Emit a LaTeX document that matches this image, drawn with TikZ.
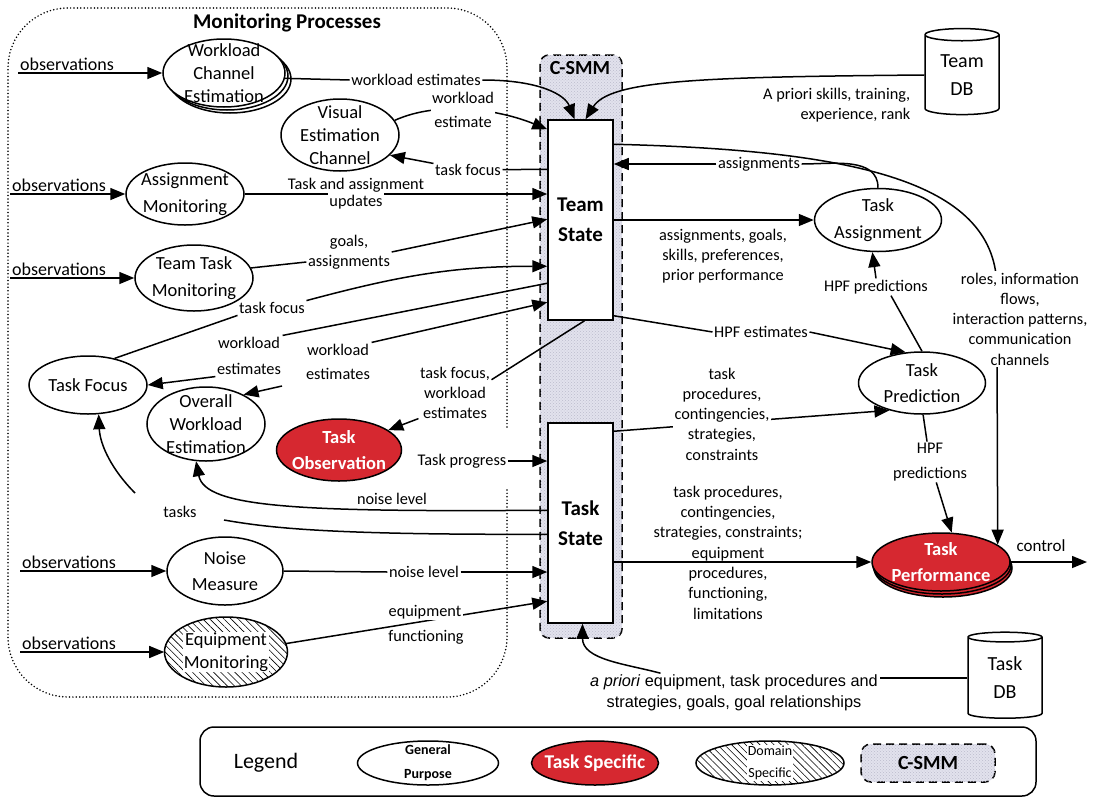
\documentclass[tikz,border=0pt]{standalone}
\usepackage{fontspec}
\setmainfont{Carlito}
\newfontfamily\arialfont{Liberation Sans}
\usetikzlibrary{shapes.geometric,arrows.meta,positioning,shadows,patterns,patterns.meta}
\definecolor{taskred}{RGB}{214,40,48}
\definecolor{csmmfill}{RGB}{226,226,237}
\definecolor{csmmdot}{RGB}{188,188,205}
\tikzset{
  conn/.style={line width=1.5pt},
  arr/.style={conn, -{Triangle[length=15pt,width=12pt]}},
  proc/.style={ellipse, draw, line width=1.5pt, fill=white, inner sep=0pt},
  taskproc/.style={proc, fill=taskred},
  domproc/.style={proc, pattern={Lines[angle=-45,distance=5pt,line width=0.6pt]}},
  ptxtfmt/.style={align=center, inner sep=0pt, font=\fontsize{18.5}{23}\selectfont},
  ptxt/.style={label={[ptxtfmt]center:#1}},
  ptxt2/.style={label={[ptxtfmt, font=\fontsize{18.5}{26.5}\selectfont]center:#1}},
  rtxt/.style={label={[ptxtfmt, text=white, font=\fontsize{18.5}{26.5}\selectfont\bfseries]center:#1}},
  htxt/.style={label={[ptxtfmt, fill=white, inner sep=1pt]center:#1}},
  statebox/.style={draw, line width=1.5pt, fill=white, minimum width=65pt, minimum height=200pt, inner sep=0pt, align=center, font=\fontsize{21}{30.5}\selectfont\bfseries},
  csmmbox/.style={draw, dash pattern=on 8pt off 5pt, line width=1.5pt, rounded corners=9pt, fill=csmmfill, postaction={pattern=crosshatch dots, pattern color=csmmdot}},
  monbox/.style={line width=1.7pt, line cap=round, dash pattern=on 0pt off 3.4pt, rounded corners=60pt},
  db/.style={cylinder, shape border rotate=90, aspect=0.28, draw, line width=1.5pt, fill=white, align=center, inner sep=0pt, minimum width=74pt, minimum height=86pt, font=\fontsize{20}{28}\selectfont},
  lbl/.style={align=center, inner sep=1.5pt, font=\fontsize{16.3}{20.3}\selectfont},
  onln/.style={lbl, fill=white},
  obslbl/.style={lbl, above right, inner sep=2pt, font=\fontsize{18}{21}\selectfont},
  legendbox/.style={draw, line width=1.5pt, rounded corners=14pt}
}
\begin{document}
\begin{tikzpicture}[x=1pt,y=-1pt]
\useasboundingbox (0,0) rectangle (1095,798);

% C-SMM column
\node[csmmbox, minimum width=82pt, minimum height=583pt] (csmm) at (581,346.5) {};
\node[font=\fontsize{20}{24}\selectfont\bfseries] (csmmlbl) at (580,68) {C-SMM};

% monitoring frame
\draw[monbox] (507,427) -- (507,8) -- (8,8) -- (8,697) -- (507,697) -- (507,489);
\node[font=\fontsize{21}{25}\selectfont\bfseries] (montitle) at (287,23) {Monitoring Processes};

% monitoring processes
\node[proc, minimum width=122pt, minimum height=68pt, double copy shadow={shadow xshift=3pt,shadow yshift=-3pt}, ptxt={Workload\\Channel\\Estimation}] (wce) at (224,73) {};
\node[proc, minimum width=118pt, minimum height=72pt, ptxt={Visual\\Estimation\\Channel}] (vec) at (340,135) {};
\node[proc, minimum width=118pt, minimum height=62pt, ptxt2={Assignment\\Monitoring}] (am) at (185,194) {};
\node[proc, minimum width=118pt, minimum height=66pt, ptxt2={Team Task\\Monitoring}] (ttm) at (194,278) {};
\node[proc, minimum width=118pt, minimum height=58pt, ptxt={Task Focus}] (tf) at (88,385) {};
\node[proc, minimum width=118pt, minimum height=74pt, ptxt={Overall\\Workload\\Estimation}] (owe) at (206,424) {};
\node[taskproc, minimum width=125pt, minimum height=62pt, rtxt={Task\\Observation}] (tob) at (339,450) {};
\node[proc, minimum width=116pt, minimum height=68pt, ptxt2={Noise\\Measure}] (nm) at (225,571) {};
\node[domproc, minimum width=123pt, minimum height=70pt, htxt={Equipment\\Monitoring}] (em) at (226,652) {};

% states
\node[statebox] (ts) at (580.5,220) {Team\\State};
\node[statebox] (tks) at (580.5,523) {Task\\State};

% right side
\node[db] (teamdb) at (962,75) {Team\\DB};
\node[proc, minimum width=127pt, minimum height=63pt, ptxt2={Task\\Assignment}] (ta) at (878,220) {};
\node[taskproc, minimum width=138pt, minimum height=58pt, double copy shadow={shadow xshift=1pt,shadow yshift=-3pt}, rtxt={Task\\Performance}] (tperf) at (941,562) {};
\node[db] (taskdb) at (1005,678) {Task\\DB};

% roles (drawn before Task Prediction)
\coordinate (rolesbend) at (996.8,285);
\draw[arr] ([yshift=-25pt]ts.north east) .. controls (850,150) and (994,180) .. (rolesbend) -- (tperf.17);
\node[onln] (lroles) at (1020,319) {roles, information\\flows,\\interaction patterns,\\communication\\channels};
\node[proc, minimum width=127pt, minimum height=62pt, ptxt2={Task\\Prediction}] (tp) at (922,383) {};

% observations
\coordinate (o1) at (18,73);
\coordinate (o2) at (10,194);
\coordinate (o3) at (10,278);
\coordinate (o4) at (20,571);
\coordinate (o5) at (20,652);
\draw[arr] (o1) -- (wce.west);
\draw[arr] (o2) -- (am.west);
\draw[arr] (o3) -- (ttm.west);
\draw[arr] (o4) -- (nm.west);
\draw[arr] (o5) -- (em.west);
\node[obslbl] (lo1) at (o1) {observations};
\node[obslbl] (lo2) at (o2) {observations};
\node[obslbl] (lo3) at (o3) {observations};
\node[obslbl] (lo4) at (o4) {observations};
\node[obslbl] (lo5) at (o5) {observations};

% workload channel
\node[lbl] (lwe1) at (416,80) {workload estimates};
\draw[conn] (wce.-5) -- (lwe1.west);
\draw[arr] (lwe1.east) .. controls (540,80) and (565,95) .. ([xshift=-6pt]ts.north);

% visual channel
\draw[arr] (vec.15) .. controls (440,100) and (500,110) .. ([yshift=-10pt]ts.north west);
\node[onln] (lwe2) at (463,110) {workload\\[4pt]estimate};
\node[lbl] (ltf1) at (468,170) {task focus};
\draw[conn] ([yshift=-50pt]ts.north west) -- (ltf1);
\draw[arr] (ltf1) -- (vec.-22);

% assignment monitoring
\node[lbl] (lupd) at (356,202) {updates};
\node[lbl, above=-1pt of lupd] (ltaa) {Task and assignment};
\draw[conn] (am.east) -- (am.east -| lupd.west);
\draw[arr] (am.east -| lupd.east) -- (am.east -| ts.west);

% team task monitoring
\node[lbl] (lga) at (349,252) {goals,\\assignments};
\draw[conn] (ttm.10) -- ([yshift=-10pt]lga.west);
\draw[arr] (lga.east) -- ([yshift=-100pt]ts.north west);

% task focus
\node[lbl] (ltf2) at (272,308) {task focus};
\draw[conn] (tf.45) -- (ltf2.south west);
\draw[arr] (ltf2.north east) to[out=15,in=180] ([yshift=-147pt]ts.north west);
\node[lbl] (lwe3) at (249,356) {workload\\[6pt]estimates};
\draw[conn] ([yshift=-164pt]ts.north west) -- (lwe3.north east);
\draw[arr] (lwe3.south west) -- (tf.east);

% overall workload
\node[lbl] (lwe4) at (338,362) {workload\\[4pt]estimates};
\draw[arr] (lwe4.north east) -- ([yshift=-183pt]ts.north west);
\coordinate (owein) at (282,386);
\draw[arr] (owein) -- (owe.38);

% task observation
\node[lbl] (ltfw) at (455,393) {task focus,\\workload\\estimates};
\draw[conn] ([xshift=4pt]ts.south) -- (ltfw.20);
\draw[arr] (ltfw.215) -- (tob.22);
\node[lbl] (ltp) at (462,461) {Task progress};
\draw[arr] (ltp.east) -- (ltp.east -| tks.west);

% task state to the left
\node[lbl] (lnl1) at (392,499) {noise level};
\draw[arr] ([yshift=-88pt]tks.north west) .. controls (300,512) and (205,508) .. (owe.-105);
\node[lbl] (ltasks) at (180,512) {tasks};
\coordinate (tka) at (224,520);
\coordinate (tkb) at (135,493);
\draw[conn] ([yshift=-112pt]tks.north west) .. controls (330,535) and (270,528) .. (tka);
\draw[arr] (tkb) .. controls (112,470) and (100,445) .. (tf.-70);

% noise and equipment
\node[lbl] (lnl2) at (424,572) {noise level};
\draw[conn] (nm.east) -- (lnl2.west);
\draw[arr] (lnl2.east) -- (lnl2.east -| tks.west);
\draw[arr] (em.8) -- ([yshift=-179pt]tks.north west);
\node[onln] (leq) at (425,612) {equipment};
\node[onln] (lfn) at (426,637) {functioning};

% team db
\draw[arr] (teamdb.west) .. controls (700,77) and (610,80) .. ([xshift=5pt]ts.north);
\node[lbl, align=right, anchor=north east] (lapri) at (912,86) {A priori skills, training,\\experience, rank};

% task assignment
\draw[arr] (ta.west -| ts.east) -- (ta.west);
\node[lbl] (lagsp) at (723,256) {assignments, goals,\\skills, preferences,\\prior performance};
\node[lbl] (lasg) at (759,164) {assignments};
\draw[conn] (ta.north) to[out=90,in=0] (lasg.east);
\draw[arr] (lasg.west) -- (lasg.west -| ts.east);

% task prediction
\node[lbl] (lhpf1) at (876,287) {HPF predictions};
\draw[conn] (tp.north) -- ([xshift=15pt]lhpf1.south);
\draw[arr] (lhpf1.north) -- (ta.-100);
\node[lbl] (lhpfe) at (761,332) {HPF estimates};
\draw[conn] ([yshift=5pt]ts.south east) -- (lhpfe.west);
\draw[arr] (lhpfe.east) -- (tp.118);
\draw[arr] ([yshift=-9pt]tks.north east) -- (tp.220);
\node[onln] (lproc1) at (722,414) {task\\procedures,\\contingencies,\\strategies,\\constraints};

% task performance
\node[lbl] (lhpf2) at (930,462) {HPF\\[4pt]predictions};
\draw[conn] (tp.-88) -- (lhpf2);
\draw[arr] (lhpf2) -- (tperf.70);
\draw[arr] (tperf.west -| tks.east) -- (tperf.west);
\node[lbl] (lprocs) at (728,552.5) {task procedures,\\contingencies,\\strategies, constraints;\\equipment\\procedures,\\functioning,\\limitations};
\coordinate (ctl) at (1087,562);
\draw[arr] (tperf.east) -- (ctl);
\node[lbl, font=\fontsize{17}{20}\selectfont] (lctl) at (1041,546) {control};

% task db
\node[lbl, font=\arialfont\fontsize{16.3}{21}\selectfont] (lapr) at (734,693) {\textit{a priori} equipment, task procedures and\\strategies, goals, goal relationships};
\draw[conn] (taskdb.west) -- (taskdb.west -| lapr.east);
\draw[arr] ([xshift=72pt]lapr.north west) to[out=165,in=-90] ([xshift=2pt]tks.south);

% legend
\node[legendbox, minimum width=836pt, minimum height=69pt] (legend) at (618,761.5) {};
\node[font=\fontsize{22}{26}\selectfont] (leglbl) at (266,763) {Legend};
\node[proc, minimum width=141pt, minimum height=44pt, label={[ptxtfmt, font=\fontsize{14}{24}\selectfont\bfseries]center:General\\Purpose}] (lgp) at (428,763) {};
\node[taskproc, minimum width=127pt, minimum height=44pt, label={[ptxtfmt, text=white, font=\fontsize{19.5}{22}\selectfont\bfseries]center:Task Specific}] (lts) at (595,763) {};
\node[domproc, minimum width=148pt, minimum height=44pt, label={[ptxtfmt, fill=white, inner sep=1pt, font=\fontsize{14}{22}\selectfont]center:Domain\\Specific}] (lds) at (770,763) {};
\node[csmmbox, rounded corners=10pt, minimum width=134pt, minimum height=38pt, font=\fontsize{20}{24}\selectfont\bfseries] (lcs) at (928,763) {C-SMM};
\end{tikzpicture}
\end{document}
